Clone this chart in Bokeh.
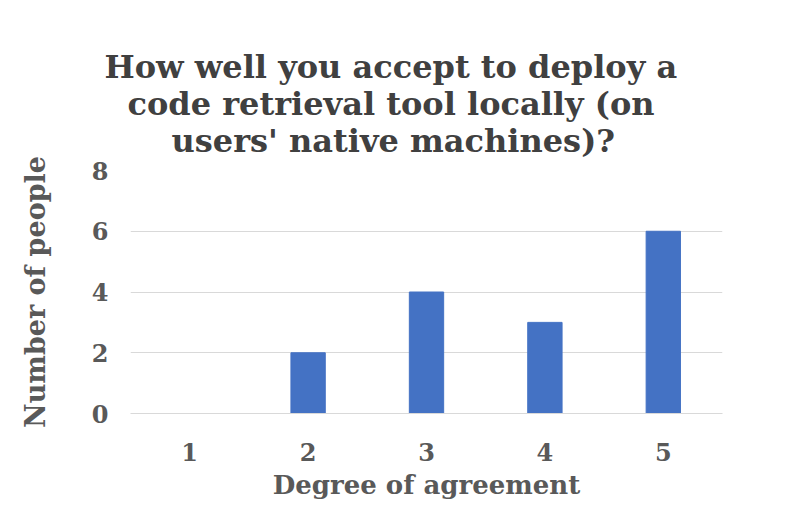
from bokeh.plotting import figure
from bokeh.models import Range1d, Title, FixedTicker
from bokeh.embed import file_html
from bokeh.resources import INLINE

categories = ["1", "2", "3", "4", "5"]
counts = [0, 2, 4, 3, 6]
y_ticks = [0, 2, 4, 6, 8]
title_lines = ["How well you accept to deploy a",
               "code retrieval tool locally (on",
               "users' native machines)?"]
title_offsets = [-26, -3, 41]

FONT = "DejaVu Serif"
TXT = "#595959"

p = figure(width=800, height=505, x_range=categories, y_range=Range1d(0, 8),
           output_backend="svg", toolbar_location=None,
           min_border_left=130, min_border_right=78, min_border_bottom=92, min_border_top=170)
p.title = None
p.outline_line_color = None

p.vbar(x=categories, top=counts, width=0.29, color="#4472C4")

# blank spacer between the plot area and the last title line
p.add_layout(Title(text=" ", text_font_size="9px", standoff=0), "above")
for i in reversed(range(len(title_lines))):
    p.add_layout(Title(text=title_lines[i], align="left", offset=title_offsets[i],
                       text_font=FONT, text_font_size="32px", text_font_style="bold",
                       text_color="#404040", standoff=-3), "above")

p.yaxis.ticker = FixedTicker(ticks=y_ticks)
p.ygrid.ticker = FixedTicker(ticks=y_ticks)
p.xgrid.grid_line_color = None
p.ygrid.grid_line_color = "#d9d9d9"

for ax in (p.xaxis[0], p.yaxis[0]):
    ax.major_tick_line_color = None
    ax.minor_tick_line_color = None
    ax.major_label_text_font = FONT
    ax.major_label_text_font_style = "bold"
    ax.major_label_text_font_size = "24px"
    ax.major_label_text_color = TXT
    ax.axis_label_text_font = FONT
    ax.axis_label_text_font_style = "bold"
    ax.axis_label_text_color = TXT

p.xaxis.axis_label_text_font_size = "26px"
p.yaxis.axis_label_text_font_size = "27px"
p.yaxis.axis_line_color = None
p.xaxis.axis_line_color = "#d9d9d9"
p.xaxis.axis_label = "Degree of agreement"
p.yaxis.axis_label = "Number of people"
p.xaxis.major_label_standoff = 23
p.yaxis.major_label_standoff = 16
p.yaxis.axis_label_standoff = 38
p.xaxis.axis_label_standoff = 6

open("out.html", "w").write(file_html(p, INLINE))
